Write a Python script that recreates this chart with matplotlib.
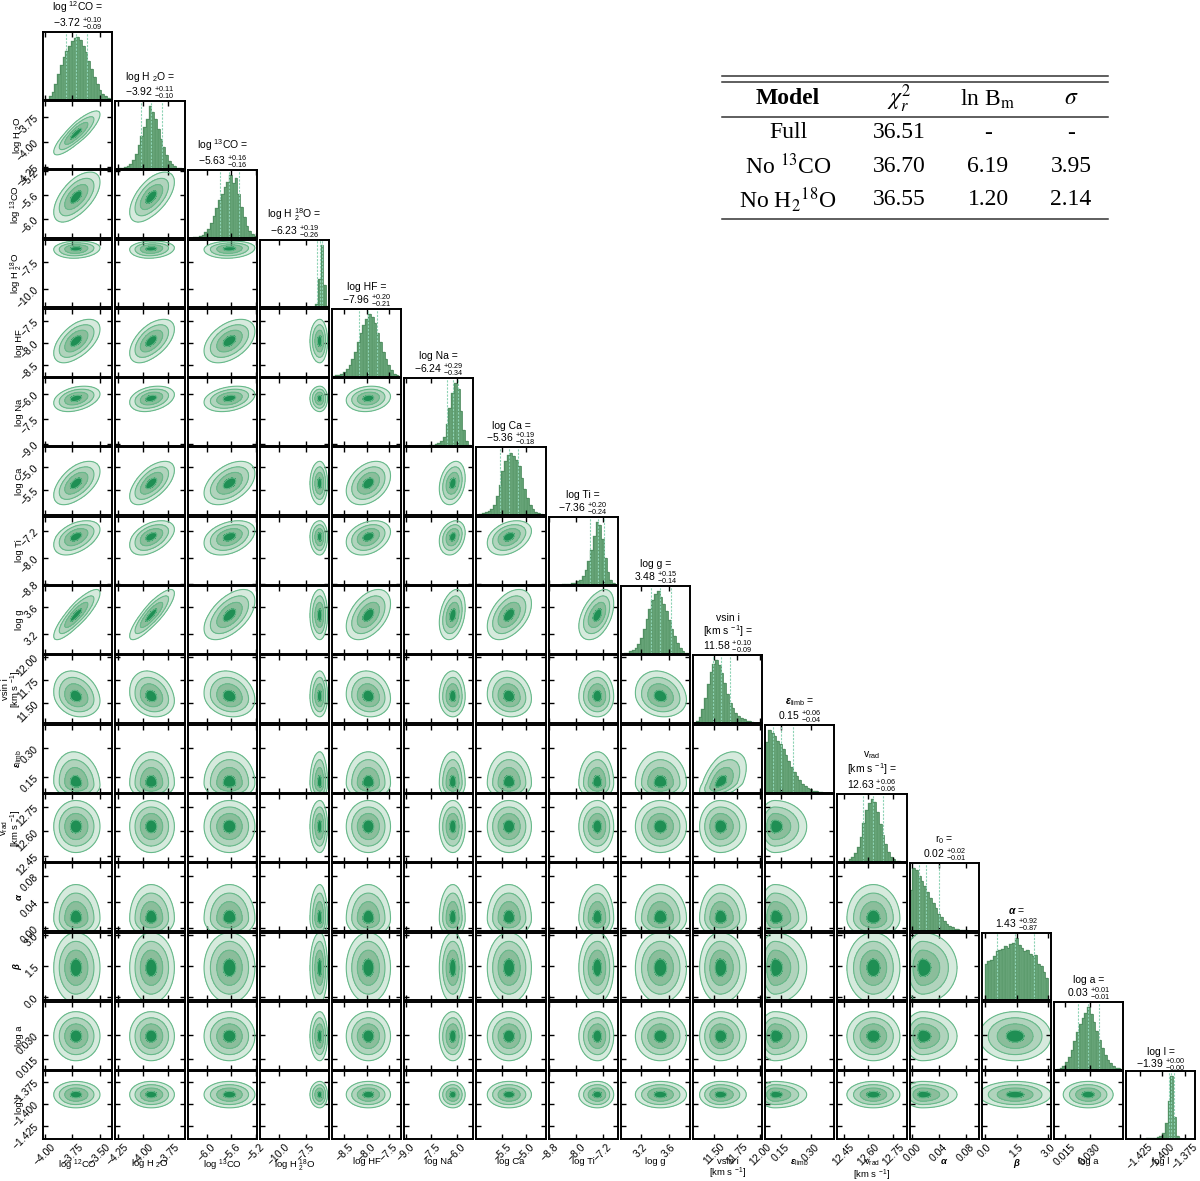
import numpy as np
import matplotlib
matplotlib.use("Agg")
import matplotlib.pyplot as plt
from matplotlib.lines import Line2D

plt.rcParams['font.family'] = ['Liberation Sans', 'DejaVu Sans']
plt.rcParams['mathtext.fontset'] = 'custom'
plt.rcParams['mathtext.rm'] = 'Liberation Sans'
plt.rcParams['mathtext.it'] = 'Liberation Sans:italic'
plt.rcParams['mathtext.bf'] = 'Liberation Sans:bold'
plt.rcParams['mathtext.bfit'] = 'Liberation Sans:italic:bold'
plt.rcParams['axes.linewidth'] = 1.4

# ---------------- data ----------------
AXIS_LABELS = ['log $^{12}$CO', 'log H $_2$O', 'log $^{13}$CO', 'log H $_2^{18}$O',
               'log HF', 'log Na', 'log Ca', 'log Ti', 'log g',
               'vsin i\n[km s $^{-1}$]', '$\\mathbfit{\\varepsilon}_{\\rm limb}$',
               'v$_{\\rm rad}$\n[km s $^{-1}$]', '$\\mathbfit{\\alpha}$', '$\\mathbfit{\\beta}$',
               'log a', 'log l']
TITLE_NAMES = ['log $^{12}$CO', 'log H $_2$O', 'log $^{13}$CO', 'log H $_2^{18}$O',
               'log HF', 'log Na', 'log Ca', 'log Ti', 'log g',
               'vsin i\n[km s $^{-1}$]', '$\\mathbfit{\\varepsilon}_{\\rm limb}$',
               'v$_{\\rm rad}$\n[km s $^{-1}$]', 'r$_0$', '$\\mathbfit{\\alpha}$',
               'log a', 'log l']
MEDIANS = [-3.72, -3.92, -5.63, -6.23, -7.96, -6.24, -5.36, -7.36, 3.48, 11.58,
           0.15, 12.63, 0.02, 1.43, 0.029, -1.3896]
ERR_HI = [0.10, 0.11, 0.16, 0.19, 0.20, 0.29, 0.19, 0.20, 0.15, 0.10,
          0.06, 0.06, 0.02, 0.92, 0.0064, 0.003]
ERR_LO = [0.09, 0.10, 0.16, 0.26, 0.21, 0.34, 0.18, 0.24, 0.14, 0.09,
          0.04, 0.06, 0.01, 0.87, 0.0062, 0.003]
RANGE_LO = [-4.015, -4.27, -6.32, -11.7, -8.78, -9.10, -6.05, -8.82, 2.91, 11.28,
            0.073, 12.413, -0.004, -0.15, 0.0085, -1.440]
RANGE_HI = [-3.388, -3.59, -5.18, -5.40, -7.22, -5.04, -4.58, -6.76, 3.91, 12.02,
            0.418, 12.830, 0.0995, 3.13, 0.050, -1.363]
TICKS = [[-4.00, -3.75, -3.50], [-4.25, -4.00, -3.75], [-6.0, -5.6, -5.2], [-10.0, -7.5],
         [-8.5, -8.0, -7.5], [-9.0, -7.5, -6.0], [-5.5, -5.0], [-8.8, -8.0, -7.2],
         [3.2, 3.6], [11.50, 11.75, 12.00], [0.15, 0.30], [12.45, 12.60, 12.75],
         [0.00, 0.04, 0.08], [0.0, 1.5, 3.0], [0.015, 0.030], [-1.425, -1.400, -1.375]]
TICK_LABELS = [['−4.00', '−3.75', '−3.50'], ['−4.25', '−4.00', '−3.75'], ['−6.0', '−5.6', '−5.2'],
               ['−10.0', '−7.5'], ['−8.5', '−8.0', '−7.5'], ['−9.0', '−7.5', '−6.0'],
               ['−5.5', '−5.0'], ['−8.8', '−8.0', '−7.2'], ['3.2', '3.6'],
               ['11.50', '11.75', '12.00'], ['0.15', '0.30'], ['12.45', '12.60', '12.75'],
               ['0.00', '0.04', '0.08'], ['0.0', '1.5', '3.0'], ['0.015', '0.030'],
               ['−1.425', '−1.400', '−1.375']]

# histogram bar heights (25 equal bins across each panel range)
HIST = [
    [0.00, 0.01, 0.05, 0.12, 0.25, 0.40, 0.55, 0.68, 0.78, 0.86, 0.93, 0.98, 1.00, 0.94, 0.86, 0.75, 0.62, 0.48, 0.36, 0.25, 0.15, 0.09, 0.05, 0.02, 0.01],
    [0.00, 0.01, 0.02, 0.03, 0.05, 0.08, 0.14, 0.24, 0.38, 0.52, 0.66, 0.80, 1.00, 0.90, 0.80, 0.64, 0.48, 0.34, 0.22, 0.13, 0.07, 0.04, 0.02, 0.01, 0.00],
    [0.00, 0.00, 0.01, 0.02, 0.03, 0.05, 0.09, 0.15, 0.24, 0.35, 0.48, 0.60, 0.70, 0.82, 0.90, 1.00, 0.88, 0.95, 0.70, 0.50, 0.34, 0.20, 0.12, 0.06, 0.03],
    [0.00, 0.00, 0.00, 0.00, 0.00, 0.00, 0.00, 0.00, 0.00, 0.00, 0.00, 0.00, 0.00, 0.00, 0.00, 0.00, 0.00, 0.00, 0.00, 0.01, 0.05, 0.45, 1.00, 0.35, 0.03],
    [0.01, 0.02, 0.03, 0.05, 0.08, 0.12, 0.18, 0.28, 0.40, 0.55, 0.70, 0.82, 0.92, 1.00, 0.95, 0.85, 0.70, 0.55, 0.40, 0.28, 0.18, 0.10, 0.05, 0.02, 0.01],
    [0.00, 0.00, 0.00, 0.00, 0.00, 0.00, 0.00, 0.00, 0.00, 0.01, 0.02, 0.03, 0.05, 0.08, 0.15, 0.35, 0.60, 0.85, 1.00, 0.90, 0.55, 0.25, 0.08, 0.02, 0.00],
    [0.01, 0.02, 0.03, 0.05, 0.07, 0.10, 0.16, 0.30, 0.48, 0.70, 0.86, 0.96, 1.00, 0.95, 0.88, 0.78, 0.60, 0.42, 0.28, 0.17, 0.10, 0.06, 0.03, 0.02, 0.01],
    [0.00, 0.00, 0.00, 0.00, 0.00, 0.005, 0.01, 0.01, 0.02, 0.03, 0.05, 0.08, 0.14, 0.24, 0.38, 0.55, 0.78, 1.00, 0.95, 0.72, 0.42, 0.20, 0.07, 0.02, 0.00],
    [0.00, 0.01, 0.02, 0.04, 0.06, 0.10, 0.16, 0.26, 0.40, 0.56, 0.72, 0.86, 0.96, 1.00, 0.90, 0.80, 0.68, 0.54, 0.40, 0.28, 0.18, 0.10, 0.05, 0.02, 0.01],
    [0.00, 0.03, 0.10, 0.22, 0.40, 0.62, 0.82, 0.95, 1.00, 0.92, 0.80, 0.64, 0.46, 0.32, 0.24, 0.17, 0.12, 0.08, 0.06, 0.04, 0.03, 0.02, 0.01, 0.01, 0.00],
    [0.80, 1.00, 0.95, 0.90, 0.82, 0.78, 0.70, 0.60, 0.50, 0.40, 0.33, 0.27, 0.20, 0.14, 0.10, 0.07, 0.05, 0.03, 0.02, 0.01, 0.01, 0.00, 0.00, 0.00, 0.00],
    [0.00, 0.00, 0.01, 0.02, 0.04, 0.08, 0.14, 0.24, 0.40, 0.62, 0.82, 0.94, 1.00, 0.95, 0.80, 0.60, 0.42, 0.28, 0.16, 0.08, 0.04, 0.02, 0.01, 0.00, 0.00],
    [0.65, 1.00, 0.97, 0.88, 0.80, 0.72, 0.62, 0.52, 0.44, 0.36, 0.28, 0.22, 0.16, 0.12, 0.08, 0.06, 0.04, 0.03, 0.02, 0.01, 0.01, 0.00, 0.00, 0.00, 0.00],
    [0.00, 0.58, 0.62, 0.64, 0.70, 0.78, 0.80, 0.82, 0.86, 0.84, 0.90, 0.92, 1.00, 0.88, 0.84, 0.78, 0.80, 0.74, 0.70, 0.72, 0.58, 0.55, 0.46, 0.36, 0.00],
    [0.00, 0.01, 0.03, 0.06, 0.12, 0.20, 0.32, 0.46, 0.60, 0.72, 0.82, 0.90, 1.00, 0.88, 0.76, 0.62, 0.48, 0.34, 0.24, 0.16, 0.10, 0.06, 0.03, 0.02, 0.01],
    [0.00, 0.00, 0.00, 0.00, 0.00, 0.00, 0.005, 0.01, 0.01, 0.015, 0.02, 0.03, 0.05, 0.10, 0.25, 0.60, 1.00, 0.35, 0.05, 0.01, 0.00, 0.00, 0.00, 0.00, 0.00],
]

# 2-D posterior contour description: peak, widths below/above peak (smoothed)
C_PEAK = [-3.72, -3.92, -5.63, -6.23, -7.96, -6.24, -5.36, -7.36, 3.48, 11.57,
          0.12, 12.63, 0.015, 1.43, 0.029, -1.3896]
C_SIG_LO = [0.10, 0.105, 0.21, 0.45, 0.25, 0.40, 0.23, 0.28, 0.18, 0.11,
            0.04, 0.08, 0.014, 0.85, 0.0075, 0.0075]
C_SIG_HI = [0.11, 0.115, 0.21, 0.35, 0.25, 0.36, 0.24, 0.24, 0.19, 0.14,
            0.08, 0.08, 0.026, 0.85, 0.0075, 0.0075]
CORR = [(0, 1, 0.85), (0, 2, 0.60), (1, 2, 0.60), (0, 3, 0.10), (1, 3, 0.10), (2, 3, 0.10),
        (0, 4, 0.55), (1, 4, 0.55), (2, 4, 0.45),
        (0, 5, 0.35), (1, 5, 0.30), (2, 5, 0.30), (4, 5, 0.15),
        (0, 6, 0.55), (1, 6, 0.60), (2, 6, 0.45), (4, 6, 0.35), (5, 6, 0.25),
        (0, 7, 0.45), (1, 7, 0.45), (2, 7, 0.35), (4, 7, 0.30), (5, 7, 0.25), (6, 7, 0.35),
        (0, 8, 0.85), (1, 8, 0.85), (2, 8, 0.55), (4, 8, 0.45), (5, 8, 0.30), (6, 8, 0.45), (7, 8, 0.45),
        (0, 9, -0.20), (1, 9, -0.20), (2, 9, -0.15), (4, 9, -0.10), (6, 9, -0.10), (8, 9, -0.15),
        (0, 10, -0.10), (9, 10, 0.50)]
SIGMA_LEVELS = [2.0, 1.5, 1.0, 0.5]

TABLE_HEAD = ['Model', '$\\chi^2_r$', 'ln B$_{\\rm m}$', '$\\sigma$']
TABLE_ROWS = [['Full', '36.51', '-', '-'],
              ['No $^{13}$CO', '36.70', '6.19', '3.95'],
              ['No H$_2$$^{18}$O', '36.55', '1.20', '2.14']]

# ---------------- style ----------------
HIST_FACE = '#5d9c6e'
HIST_EDGE = '#79b189'
Q_COLOR = '#8ed3b5'
FILL_COLORS = ['#d6eadd', '#b0d3bc', '#8bbd9b', '#1f8f54']
LINE_COLOR = '#67b98a'
TICK_FS = 7.5
LABEL_FS = 6.8
TITLE_FS = 7.5

n = len(MEDIANS)
rho = np.eye(n)
for a, b, r in CORR:
    rho[a, b] = rho[b, a] = r

W, H = 1200, 1181
fig = plt.figure(figsize=(W / 100, H / 100), dpi=100)
gs = fig.add_gridspec(n, n, left=43.3 / W, right=1195.3 / W, bottom=1 - 1139 / H,
                      top=1 - 31.7 / H, wspace=0.046, hspace=0.022)


def style_ticks(ax):
    ax.tick_params(direction='in', top=True, right=True, length=3.5, width=1.0,
                   labelsize=TICK_FS, pad=2)


for i in range(n):
    for j in range(i + 1):
        ax = fig.add_subplot(gs[i, j])
        if i == j:
            edges = np.linspace(RANGE_LO[i], RANGE_HI[i], len(HIST[i]) + 1)
            h = np.array(HIST[i])
            ax.bar(edges[:-1], h, width=np.diff(edges), align='edge', color=HIST_FACE,
                   edgecolor=HIST_EDGE, linewidth=0.3)
            ax.stairs(h, edges, color='#4e8c5f', linewidth=0.6)
            for q in (MEDIANS[i] - ERR_LO[i], MEDIANS[i], MEDIANS[i] + ERR_HI[i]):
                ax.axvline(q, color=Q_COLOR, lw=0.8, ls=(0, (2, 1.2)))
            ax.set_xlim(RANGE_LO[i], RANGE_HI[i])
            ax.set_ylim(0, 1.08)
            ax.set_yticks([])
            ax.set_xticks(TICKS[i])
            style_ticks(ax)
            ax.tick_params(left=False, right=False)
            title = (TITLE_NAMES[i] + ' =\n' + '$%.2f$ $^{+%.2f}_{-%.2f}$'
                     % (MEDIANS[i], ERR_HI[i], ERR_LO[i]))
            ax.set_title(title, fontsize=TITLE_FS, pad=2, linespacing=1.0)
            if i == n - 1:
                ax.set_xticklabels(TICK_LABELS[i], rotation=45)
                ax.set_xlabel(AXIS_LABELS[i], fontsize=LABEL_FS, linespacing=0.95)
                ax.xaxis.set_label_coords(0.5, -0.27)
            else:
                ax.set_xticklabels([])
            continue
        # 2-D panel: x = param j, y = param i
        xs = np.linspace(RANGE_LO[j], RANGE_HI[j], 160)
        ys = np.linspace(RANGE_LO[i], RANGE_HI[i], 160)
        X, Y = np.meshgrid(xs, ys)
        ux = (X - C_PEAK[j]) / np.where(X < C_PEAK[j], C_SIG_LO[j], C_SIG_HI[j])
        uy = (Y - C_PEAK[i]) / np.where(Y < C_PEAK[i], C_SIG_LO[i], C_SIG_HI[i])
        r = rho[i, j]
        Z = np.exp(-0.5 * (ux ** 2 - 2 * r * ux * uy + uy ** 2) / (1 - r ** 2))
        levels = [np.exp(-0.5 * s ** 2) for s in SIGMA_LEVELS] + [1.01]
        ax.contourf(X, Y, Z, levels=levels, colors=FILL_COLORS)
        ax.contour(X, Y, Z, levels=levels[:-1], colors=LINE_COLOR, linewidths=0.8)
        ax.set_xlim(RANGE_LO[j], RANGE_HI[j])
        ax.set_ylim(RANGE_LO[i], RANGE_HI[i])
        ax.set_xticks(TICKS[j])
        ax.set_yticks(TICKS[i])
        style_ticks(ax)
        if i == n - 1:
            ax.set_xticklabels(TICK_LABELS[j], rotation=45)
            ax.set_xlabel(AXIS_LABELS[j], fontsize=LABEL_FS, linespacing=0.95)
            ax.xaxis.set_label_coords(0.5, -0.27)
        else:
            ax.set_xticklabels([])
        if j == 0:
            ax.set_yticklabels(TICK_LABELS[i], rotation=45)
            ax.set_ylabel(AXIS_LABELS[i], fontsize=LABEL_FS, linespacing=0.9)
            ax.yaxis.set_label_coords(-0.28, 0.5)
        else:
            ax.set_yticklabels([])

# ---------------- table ----------------
COL_X = [788, 899, 988, 1071]
HEAD_Y = 99
ROW_Y = [133, 166.5, 199.5]
RULES_Y = [75.7, 82, 116.7, 219.3]
for yy in RULES_Y:
    fig.add_artist(Line2D([721.7 / W, 1108.3 / W], [1 - yy / H, 1 - yy / H],
                          color='#333333', lw=1.1, transform=fig.transFigure))
for k, s in enumerate(TABLE_HEAD):
    fig.text(COL_X[k] / W, 1 - HEAD_Y / H, s, ha='center', va='center', fontsize=17,
             family='Liberation Serif', math_fontfamily='stix',
             fontweight='bold' if k == 0 else 'normal')
for rr, row in enumerate(TABLE_ROWS):
    for k, s in enumerate(row):
        fig.text(COL_X[k] / W, 1 - ROW_Y[rr] / H, s, ha='center', va='center', fontsize=17,
                 family='Liberation Serif', math_fontfamily='stix')

fig.savefig('out.png', dpi=100)
